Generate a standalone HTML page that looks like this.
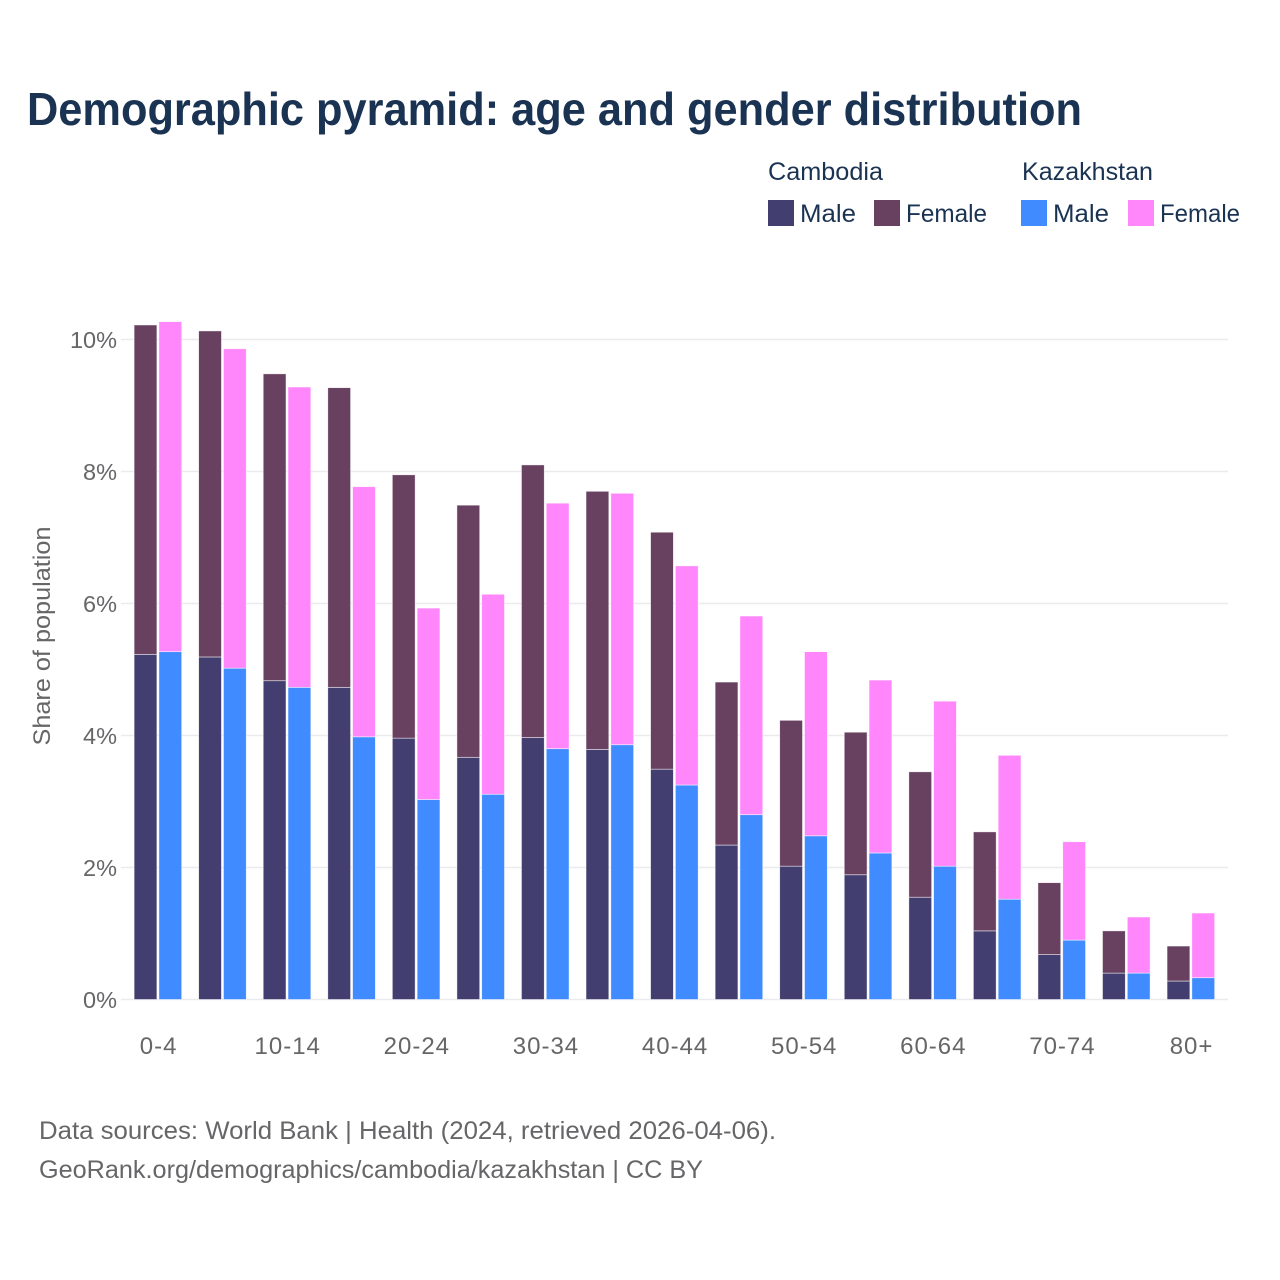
<!DOCTYPE html>
<html lang="en">
<head>
<meta charset="utf-8">
<title>Demographic pyramid: age and gender distribution</title>
<style>
html,body{margin:0;padding:0;background:#fff;}
#chart{display:block;font-family:"Liberation Sans",Arial,sans-serif;}
.tick{font-size:23.5px;fill:#666669;}
.foot{font-size:25px;fill:#666669;}
.leg{font-size:25px;fill:#1a3352;}
</style>
</head>
<body>
<svg id="chart" xmlns="http://www.w3.org/2000/svg" width="1280" height="1280" viewBox="0 0 1280 1280">
  <rect x="0" y="0" width="1280" height="1280" fill="#ffffff"/>
  <text x="27" y="125" font-size="46" font-weight="700" fill="#1a3352" textLength="1055" lengthAdjust="spacingAndGlyphs">Demographic pyramid: age and gender distribution</text>

  <g>
    <text class="leg" x="768" y="180" textLength="115" lengthAdjust="spacingAndGlyphs">Cambodia</text>
    <text class="leg" x="1022" y="180" textLength="131" lengthAdjust="spacingAndGlyphs">Kazakhstan</text>
    <rect x="768" y="200" width="26" height="26" fill="#433e70"/>
    <text class="leg" x="800" y="222" textLength="56" lengthAdjust="spacingAndGlyphs">Male</text>
    <rect x="874" y="200" width="26" height="26" fill="#684160"/>
    <text class="leg" x="906" y="222" textLength="81" lengthAdjust="spacingAndGlyphs">Female</text>
    <rect x="1021" y="200" width="26" height="26" fill="#3f8bff"/>
    <text class="leg" x="1053" y="222" textLength="56" lengthAdjust="spacingAndGlyphs">Male</text>
    <rect x="1128" y="200" width="26" height="26" fill="#ff86fb"/>
    <text class="leg" x="1160" y="222" textLength="80" lengthAdjust="spacingAndGlyphs">Female</text>
  </g>

  <g id="grid"></g>
  <g id="bars"></g>
  <g id="yaxis"></g>
  <g id="xaxis"></g>

  <text transform="translate(50,636) rotate(-90)" text-anchor="middle" font-size="24" fill="#666669" textLength="219" lengthAdjust="spacingAndGlyphs">Share of population</text>

  <text class="foot" x="39" y="1139" textLength="737" lengthAdjust="spacingAndGlyphs">Data sources: World Bank | Health (2024, retrieved 2026-04-06).</text>
  <text class="foot" x="39" y="1178" textLength="664" lengthAdjust="spacingAndGlyphs">GeoRank.org/demographics/cambodia/kazakhstan | CC BY</text>
</svg>
<script>
const ageGroups = ["0-4","5-9","10-14","15-19","20-24","25-29","30-34","35-39","40-44","45-49","50-54","55-59","60-64","65-69","70-74","75-79","80+"];
const shownAgeLabels = ["0-4","10-14","20-24","30-34","40-44","50-54","60-64","70-74","80+"];
const yTicks = [0,2,4,6,8,10];
const cambodiaMale = [5.23,5.19,4.83,4.73,3.96,3.67,3.97,3.79,3.49,2.34,2.02,1.89,1.55,1.04,0.68,0.40,0.28];
const cambodiaFemale = [4.99,4.94,4.65,4.54,3.99,3.82,4.13,3.91,3.59,2.47,2.21,2.16,1.90,1.50,1.09,0.64,0.53];
const kazakhstanMale = [5.27,5.02,4.73,3.98,3.03,3.11,3.80,3.86,3.25,2.80,2.48,2.22,2.02,1.52,0.90,0.40,0.33];
const kazakhstanFemale = [5.00,4.84,4.55,3.79,2.90,3.03,3.72,3.81,3.32,3.01,2.79,2.62,2.50,2.18,1.49,0.85,0.98];

const NS = "http://www.w3.org/2000/svg";
const yScale = function (v) { return 999.5 - v * 66; };
const xCenter = function (i) { return 158 + i * 64.56; };
const barW = 22.8;

function mk(tag, parent, attrs) {
  const el = document.createElementNS(NS, tag);
  Object.keys(attrs).forEach(function (k) { el.setAttribute(k, attrs[k]); });
  parent.appendChild(el);
  return el;
}

const gridG = document.getElementById("grid");
const yG = document.getElementById("yaxis");
yTicks.forEach(function (t) {
  const line = mk("line", gridG, {x1: 121, x2: 1228, y1: yScale(t), y2: yScale(t), stroke: "#ebebef", "stroke-width": 1.5});
  
  
  const lab = mk("text", yG, {x: 117, y: yScale(t) + 8.5, "text-anchor": "end", "class": "tick"});
  lab.textContent = t + "%";
  
  
});

const barsG = document.getElementById("bars");
function stackedBar(i, xLeft, lower, upper, lowerColor, upperColor) {
  const yLower = yScale(lower);
  const yUpper = yScale(lower + upper);
  const base = yScale(0);
  const a = mk("rect", barsG, {x: xLeft, y: yLower, width: barW, height: base - yLower, fill: lowerColor, stroke: "#ffffff", "stroke-width": 0.7, "stroke-opacity": 0.7});
  
  
  const b = mk("rect", barsG, {x: xLeft, y: yUpper, width: barW, height: yLower - yUpper, fill: upperColor, stroke: "#ffffff", "stroke-width": 0.7, "stroke-opacity": 0.7});
  
  
}
ageGroups.forEach(function (g, i) {
  const c = xCenter(i);
  stackedBar(i, c - 23.9, cambodiaMale[i], cambodiaFemale[i], "#433e70", "#684160");
  stackedBar(i, c + 0.9, kazakhstanMale[i], kazakhstanFemale[i], "#3f8bff", "#ff86fb");
});

const xG = document.getElementById("xaxis");
shownAgeLabels.forEach(function (g) {
  const i = ageGroups.indexOf(g);
  const lab = mk("text", xG, {x: xCenter(i) + 0.6, y: 1054, "text-anchor": "middle", "class": "tick", "letter-spacing": 1});
  lab.style.fontSize = "24px";
  lab.textContent = g;
  
  
});
</script>
</body>
</html>
